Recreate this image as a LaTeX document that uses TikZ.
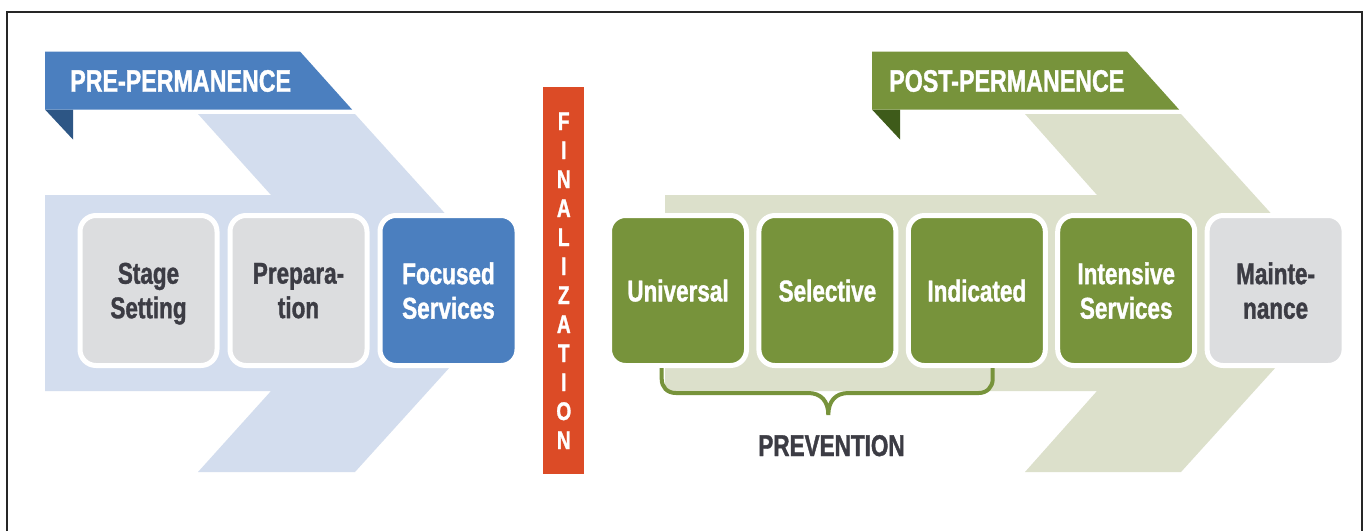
\documentclass[tikz,border=0pt]{standalone}
\usepackage{fontspec}
\newfontfamily\cond{Liberation Sans}[FakeStretch=0.75,BoldFeatures={FakeBold=1.2}]

\definecolor{prelight}{HTML}{D3DDEE}
\definecolor{preblue}{HTML}{4B7FBF}
\definecolor{prefold}{HTML}{2D5685}
\definecolor{postlight}{HTML}{DCE0CB}
\definecolor{postgreen}{HTML}{77933B}
\definecolor{postfold}{HTML}{3E5B1A}
\definecolor{stagegray}{HTML}{DCDDDF}
\definecolor{labeltext}{HTML}{3C3C44}
\definecolor{finred}{HTML}{DC4B26}

\begin{document}
\begin{tikzpicture}[x=1pt,y=-1pt,
	stagebox/.style={draw=white,line width=5pt,rounded corners=16pt,
		minimum width=137pt,minimum height=150pt,inner sep=0pt,
		align=center,text depth=0pt,
		font=\cond\bfseries\fontsize{30}{34.5}\selectfont},
	graybox/.style={stagebox,fill=stagegray,text=labeltext},
	bluebox/.style={stagebox,fill=preblue,text=white},
	greenbox/.style={stagebox,fill=postgreen,text=white},
	bannertext/.style={anchor=base west,inner sep=0pt,text=white,
		font=\cond\bfseries\fontsize{31}{32}\selectfont},
	finletter/.style={anchor=base,inner sep=0pt,text=white,
		font=\cond\bfseries\fontsize{25.5}{29}\selectfont},
	brace/.style={draw=postgreen,line width=4pt}]
	\useasboundingbox (0,0) rectangle (1364,531);
	\fill[white] (0,0) rectangle (1364,531);
	\draw[line width=2pt,black!85] (6.7,531) -- (6.7,12) -- (1361.7,12) -- (1361.7,531);

	% chevrons
	\fill[prelight] (45,195) -- (271,195) -- (198,114) -- (355,114) -- (517,293)
		-- (355,472) -- (198,472) -- (271,391) -- (45,391) -- cycle;
	\fill[postlight] (665,195) -- (1097,195) -- (1025,114) -- (1181,114) -- (1343,293)
		-- (1181,472) -- (1025,472) -- (1097,391) -- (665,391) -- cycle;

	% banners
	\fill[prefold] (45,109.5) -- (73,109.5) -- (73,139.5) -- cycle;
	\fill[preblue] (45,51.5) -- (300,51.5) -- (352,109.5) -- (45,109.5) -- cycle;
	\node[bannertext] (pre) at (70,91.7) {PRE-PERMANENCE};
	\fill[postfold] (872,109.5) -- (900,109.5) -- (900,139.5) -- cycle;
	\fill[postgreen] (872,51.5) -- (1127,51.5) -- (1179,109.5) -- (872,109.5) -- cycle;
	\node[bannertext] (post) at (889,91.7) {POST-PERMANENCE};

	% finalization
	\fill[finred] (543.3,86.7) rectangle (584.3,474);
	\foreach \l [count=\i] in {F,I,N,A,L,I,Z,A,T,I,O,N}{
		\node[finletter] (fin\i) at (563.8,{130+29*(\i-1)}) {\l};
	}

	% stages
	\node[graybox] (stage) at (148.5,290.5) {Stage\\Setting};
	\node[graybox] (prep) at (298.5,290.5) {Prepara-\\tion};
	\node[bluebox] (focus) at (448.5,290.5) {Focused\\Services};
	\node[greenbox] (univ) at (678,290.5) {Universal};
	\node[greenbox] (sel) at (827.4,290.5) {Selective};
	\node[greenbox] (ind) at (976.8,290.5) {Indicated};
	\node[greenbox] (inten) at (1126.2,290.5) {Intensive\\Services};
	\node[graybox] (maint) at (1275.6,290.5) {Mainte-\\nance};

	% prevention brace
	\draw[brace] (661.7,368) -- (661.7,379) .. controls (661.7,387) and (667,393) .. (676,393)
		-- (808,393) .. controls (821,393) and (828.3,401) .. (828.3,415)
		.. controls (828.3,401) and (835.6,393) .. (848.6,393)
		-- (978.7,393) .. controls (987,393) and (992.7,387) .. (992.7,379) -- (992.7,368);
	\node[anchor=base,inner sep=0pt,text=labeltext,
		font=\cond\bfseries\fontsize{30}{32}\selectfont] (prev) at (831.5,456) {PREVENTION};
\end{tikzpicture}
\end{document}
